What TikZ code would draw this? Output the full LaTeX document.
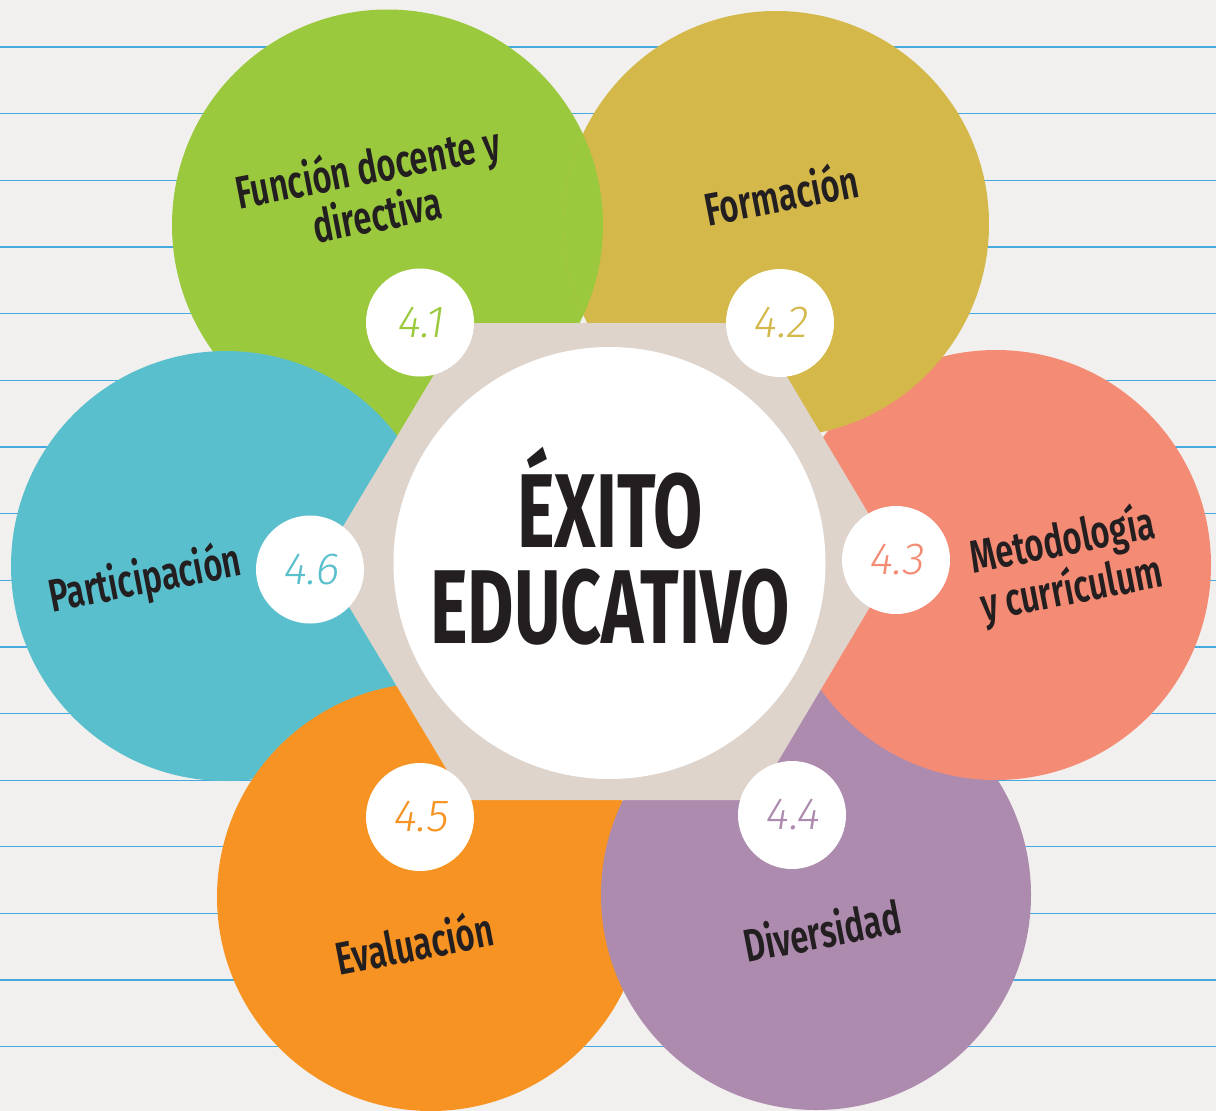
\documentclass[tikz,border=0pt]{standalone}
\usepackage{fontspec}
\usepackage{graphicx}
\newfontfamily\labfont{Fira Sans SemiBold}
\newfontfamily\numfont[FakeSlant=0.15]{Fira Sans Light}
\newfontfamily\titlefont{Fira Sans}
\newcommand\cnd[1]{\scalebox{0.71}[1]{#1}}
\newcommand\tcnd[1]{\scalebox{0.68}[1]{#1}}
\definecolor{bg}{HTML}{F1F0EE}
\definecolor{rulec}{HTML}{45AADF}
\definecolor{cgreen}{HTML}{9BC93D}
\definecolor{cyellow}{HTML}{D4B84A}
\definecolor{csalmon}{HTML}{F48B74}
\definecolor{cpurple}{HTML}{AD8BAE}
\definecolor{corange}{HTML}{F69322}
\definecolor{ccyan}{HTML}{5ABFCD}
\definecolor{hexc}{HTML}{DED4CC}
\definecolor{ink}{HTML}{231F20}
\tikzset{
  lab/.style={text=ink, font=\labfont\fontsize{46}{44}\selectfont, align=center, rotate=11, inner sep=0pt},
  num/.style={font=\numfont\fontsize{45}{45}\selectfont, inner sep=0pt},
  badge/.style={circle, fill=white, minimum size=108pt, inner sep=0pt},
  ttl/.style={text=ink, font=\titlefont\bfseries\fontsize{105}{105}\selectfont, inner sep=0pt, anchor=base},
}
\begin{document}
\begin{tikzpicture}[x=1pt,y=-1pt]
\useasboundingbox (0,0) rectangle (1216,1111);
\fill[bg] (0,0) rectangle (1216,1111);
\foreach \k in {0,...,15}
  \draw[rulec, line width=1.3pt] (0,{47+66.65*\k}) -- (1216,{47+66.65*\k});
% petals (cyclic overlap)
\fill[cgreen]  (387.5,225) circle (215.5pt);
\fill[ccyan]   (226,566)   circle (215pt);
\fill[corange] (431,897)   circle (214pt);
\fill[cpurple] (816,895)   circle (215pt);
\fill[csalmon] (996,565)   circle (215pt);
\fill[cyellow] (776,224)   circle (213pt);
\begin{scope}
  \clip (776,224) circle (213pt);
  \fill[cgreen] (387.5,225) circle (215.5pt);
\end{scope}
% hexagon and centre
\fill[hexc] (465,323) -- (755,323) -- (897,561.5) -- (755,800) -- (465,800) -- (322,561.5) -- cycle;
\node[circle, fill=white, minimum size=432pt, inner sep=0pt] (centre) at (609.5,563) {};
\node[ttl] (t1) at (610,547) {\tcnd{ÉXITO}};
\node[ttl] (t2) at (610,643) {\tcnd{EDUCATIVO}};
% badges
\node[badge] (b1) at (420,322.5) {};
\node[badge] (b2) at (780,323) {};
\node[badge] (b3) at (896,560) {};
\node[badge] (b4) at (792,815) {};
\node[badge] (b5) at (420,817) {};
\node[badge] (b6) at (310,569.5) {};
\node[num, text=cgreen]  at (b1) {4.1};
\node[num, text=cyellow] at (b2) {4.2};
\node[num, text=csalmon] at (b3) {4.3};
\node[num, text=cpurple] at (b4) {4.4};
\node[num, text=corange] at (b5) {4.5};
\node[num, text=ccyan]   at (b6) {4.6};
% labels
\node[lab] (l1) at (372,189) {\cnd{Función docente y}\\\cnd{directiva}};
\node[lab] (l2) at (781,193) {\cnd{Formación}};
\node[lab] (l3) at (1067,566) {\cnd{Metodología}\\\cnd{y currículum}};
\node[lab] (l4) at (145,580) {\cnd{Participación}};
\node[lab] (l5) at (414,942) {\cnd{Evaluación}};
\node[lab] (l6) at (822,930) {\cnd{Diversidad}};
\end{tikzpicture}
\end{document}
